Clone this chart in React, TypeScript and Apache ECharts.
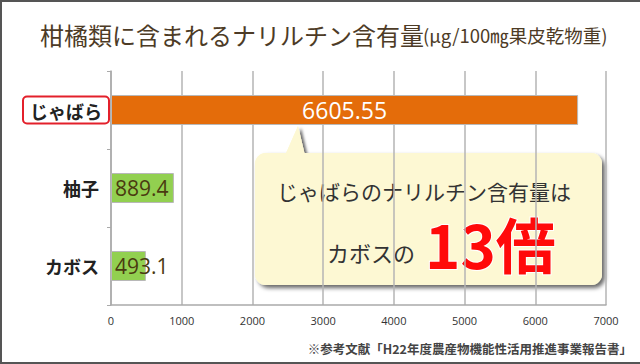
import React, { useEffect, useRef } from "react";
import * as echarts from "echarts";

const categories = ["じゃばら", "柚子", "カボス"];
const values = [6605.55, 889.4, 493.1];
const barColors = ["#E46C0A", "#92D050", "#92D050"];
const xTicks = [0, 1000, 2000, 3000, 4000, 5000, 6000, 7000];

const FONT = "'Noto Sans CJK JP', 'Noto Sans', sans-serif";

export default function App() {
  const ref = useRef<HTMLDivElement>(null);
  useEffect(() => {
    if (!ref.current) return;
    const chart = echarts.init(ref.current, undefined, { renderer: "svg" });
    chart.setOption({
      animation: false,
      backgroundColor: "#ffffff",
      textStyle: { fontFamily: FONT },
      grid: { left: 111, right: 34, top: 71, bottom: 59 },
      xAxis: {
        type: "value",
        min: xTicks[0],
        max: xTicks[xTicks.length - 1],
        interval: 1000,
        axisLine: { show: true, lineStyle: { color: "#aaa", width: 1.5 } },
        axisTick: { show: false },
        splitLine: { show: true, lineStyle: { color: "#b5b5b5", width: 1.5 } },
        axisLabel: {
          color: "#333",
          fontSize: 11,
          margin: 10,
          fontFamily: "Open Sans",
          formatter: (v: number) => String(v),
        },
      },
      yAxis: {
        type: "category",
        data: categories,
        inverse: true,
        axisLine: { show: true, lineStyle: { color: "#aaa", width: 1.5 } },
        axisTick: { show: true, length: 4, lineStyle: { color: "#aaa" } },
        axisLabel: {
          margin: 3,
          formatter: (v: string) => (v === categories[0] ? `{hl|${v}}` : `{n|${v}}`),
          rich: {
            hl: {
              fontSize: 18,
              fontWeight: "bold",
              color: "#222",
              fontFamily: FONT,
              borderColor: "#E3202B",
              borderWidth: 2,
              borderRadius: 3,
              backgroundColor: "#fff",
              padding: [4, 6, 3, 6],
            },
            n: {
              fontSize: 18,
              fontWeight: "bold",
              color: "#222",
              fontFamily: FONT,
              padding: [0, 9, 0, 0],
            },
          },
        },
      },
      series: [
        {
          type: "bar",
          barWidth: 30,
          data: values.map((v, i) => ({
            value: v,
            itemStyle: { color: barColors[i], borderColor: "#b8b8b8", borderWidth: 1 },
            label:
              i === 0
                ? { show: true, position: "inside", color: "#fff", fontSize: 23, fontFamily: "Open Sans" }
                : { show: true, position: "insideLeft", distance: 4, color: "#4A3A10", fontSize: 21, fontFamily: "Open Sans" },
          })),
        },
      ],
      graphic: [
        { type: "line", shape: { x1: 1, y1: 0, x2: 1, y2: 364 }, style: { stroke: "#555", lineWidth: 2 } },
        { type: "line", shape: { x1: 0, y1: 1, x2: 640, y2: 1 }, style: { stroke: "#555", lineWidth: 2 } },
        { type: "line", shape: { x1: 0, y1: 363, x2: 640, y2: 363 }, style: { stroke: "#555", lineWidth: 2 } },
        {
          type: "text",
          left: 40,
          top: 22,
          style: { text: "柑橘類に含まれるナリルチン含有量", fontSize: 24, fill: "#4D3B26", fontFamily: FONT },
        },
        {
          type: "text",
          left: 423,
          top: 26,
          style: { text: "(μg/100㎎果皮乾物重)", fontSize: 18.5, fill: "#4D3B26", fontFamily: FONT },
        },
        // callout shadows
        {
          type: "rect",
          shape: { x: 255, y: 153, width: 347, height: 132, r: 11 },
          style: { fill: "#FDF8D3", shadowColor: "rgba(0,0,0,0.6)", shadowBlur: 4, shadowOffsetX: 3, shadowOffsetY: 3 },
        },
        {
          type: "polygon",
          shape: { points: [[283, 160], [298, 126], [306, 160]] },
          style: { fill: "#FDF8D3", shadowColor: "rgba(0,0,0,0.6)", shadowBlur: 3, shadowOffsetX: 3, shadowOffsetY: 2 },
        },
        {
          type: "rect",
          shape: { x: 255, y: 153, width: 347, height: 132, r: 11 },
          style: { fill: "#FDF8D3" },
        },
        {
          type: "polygon",
          shape: { points: [[283, 160], [298, 126], [306, 160]] },
          style: { fill: "#FDF8D3" },
        },
        {
          type: "text",
          left: 277,
          top: 180,
          style: { text: "じゃばらのナリルチン含有量は", fontSize: 21, lineHeight: 22, fill: "#333", fontFamily: FONT },
        },
        {
          type: "text",
          left: 327,
          top: 240,
          style: { text: "カボスの", fontSize: 22, lineHeight: 24, fill: "#333", fontFamily: FONT },
        },
        {
          type: "text",
          left: 424,
          top: 211,
          style: {
            text: "13倍",
            fontSize: 60,
            lineHeight: 58,
            fontWeight: "bold",
            fill: "#FF0A0A",
            stroke: "#fff",
            lineWidth: 2,
            fontFamily: FONT,
            shadowColor: "rgba(0,0,0,0.35)",
            shadowBlur: 3,
            shadowOffsetX: 1,
            shadowOffsetY: 1,
          },
        },
        {
          type: "text",
          right: 8,
          top: 342,
          style: {
            text: "※参考文献「H22年度農産物機能性活用推進事業報告書」",
            fontSize: 12.5,
            fontWeight: "bold",
            fill: "#444",
            fontFamily: FONT,
          },
        },
      ],
    });
    return () => chart.dispose();
  }, []);
  return <div ref={ref} style={{ width: 640, height: 364, position: "absolute", left: 0, top: 0 }} />;
}
